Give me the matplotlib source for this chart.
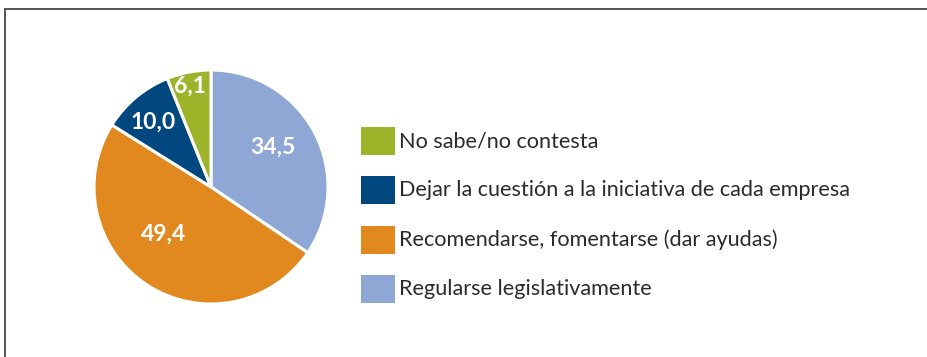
import matplotlib
matplotlib.use("Agg")
import numpy as np
import matplotlib.pyplot as plt
from matplotlib.patches import Rectangle
from matplotlib.lines import Line2D

# Survey answers, in pie order (clockwise from 12 o'clock)
categories = [
    "Regularse legislativamente",
    "Recomendarse, fomentarse (dar ayudas)",
    "Dejar la cuestión a la iniciativa de cada empresa",
    "No sabe/no contesta",
]
values = [34.5, 49.4, 10.0, 6.1]
value_labels = ["34,5", "49,4", "10,0", "6,1"]
colors = ["#8FA7D5", "#E1881E", "#00467F", "#9DB42A"]

# label placement inside each wedge: radial fraction and angular nudge (deg)
label_radius = [0.63, 0.57, 0.74, 0.88]
label_nudge = [5, -12, 2, 1]

W, H = 928, 357
fig = plt.figure(figsize=(W / 100, H / 100), dpi=100)
fig.patch.set_facecolor("white")

FONT = ["Lato", "DejaVu Sans"]

# frame lines (top and left)
fig.add_artist(Line2D([5 / W, 1.0], [1 - 8.5 / H, 1 - 8.5 / H],
                      transform=fig.transFigure, color="#555555", lw=1.4))
fig.add_artist(Line2D([5 / W, 5 / W], [0.0, 1 - 8.5 / H],
                      transform=fig.transFigure, color="#555555", lw=1.4))

# pie axes
cx, cy, r = 211, 187, 117
ax = fig.add_axes([(cx - r) / W, (H - cy - r) / H, 2 * r / W, 2 * r / H])
wedges, _ = ax.pie(values, colors=colors, startangle=90, counterclock=False,
                   radius=1.0,
                   wedgeprops=dict(edgecolor="white", linewidth=2.2))
ax.set_xlim(-1, 1)
ax.set_ylim(-1, 1)
ax.set_aspect("equal")
ax.axis("off")

for w, lab, rf, nd in zip(wedges, value_labels, label_radius, label_nudge):
    ang = np.deg2rad((w.theta1 + w.theta2) / 2 + nd)
    ax.text(rf * np.cos(ang), rf * np.sin(ang), lab, color="white",
            fontsize=16.5, fontweight="bold", family=FONT,
            ha="center", va="center")

# legend, top to bottom in reverse pie order
row_y = [141, 190.3, 239.6, 288.9]
for y, name, col in zip(row_y, categories[::-1], colors[::-1]):
    fig.add_artist(Rectangle((361 / W, (H - y - 14) / H), 34 / W, 28 / H,
                             transform=fig.transFigure, facecolor=col,
                             edgecolor="none"))
    fig.text(399 / W, (H - y) / H, name, fontsize=15.6, color="#2B2B2B",
             family=FONT, ha="left", va="center")

fig.savefig("out.png", dpi=100, facecolor="white")
